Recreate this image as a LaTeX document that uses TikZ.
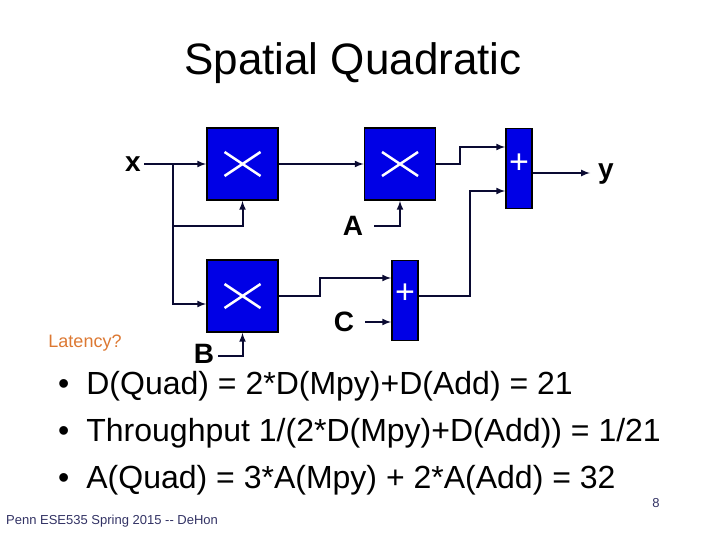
\documentclass[tikz,border=0pt]{standalone}
\usepackage{fontspec}
\setmainfont{Liberation Sans}
\usepackage{xcolor}
\usetikzlibrary{arrows}
\definecolor{blockblue}{RGB}{0,0,230}
\definecolor{wirenavy}{RGB}{10,10,50}
\definecolor{latorange}{RGB}{220,120,50}
\definecolor{footgray}{RGB}{50,50,100}
\tikzset{
  mpy/.style={draw=black, line width=1.8pt, fill=blockblue, minimum width=71pt, minimum height=72pt, inner sep=0pt},
  add/.style={draw=black, line width=1.8pt, fill=blockblue, minimum width=26pt, minimum height=80pt, inner sep=0pt},
  wire/.style={line width=2pt, wirenavy, -latex},
  lbl/.style={font=\fontsize{28}{30}\selectfont\bfseries}
}
\begin{document}
\begin{tikzpicture}[x=1pt, y=-1pt]
	  \useasboundingbox (0,0) rectangle (720,540);
	  \node at (353,63) {\fontsize{44}{48}\selectfont Spatial Quadratic};
	  % blocks
	  \node[mpy] (m1) at (242.5,164) {};
	  \node[mpy] (m2) at (400,164) {};
	  \node[mpy] (m3) at (242.5,296) {};
	  \node[add] (a1) at (519,168.5) {};
	  \node[add] (a2) at (405,300.5) {};
	  \foreach \b in {m1,m2,m3}
	    \draw[white, line width=2.5pt] ([shift={(-18,-12)}]\b.center) -- ([shift={(18,12)}]\b.center)
	      ([shift={(-18,12)}]\b.center) -- ([shift={(18,-12)}]\b.center);
	  \node[white, font=\fontsize{34}{34}\selectfont] at ([yshift=5pt]a1) {+};
	  \node[white, font=\fontsize{34}{34}\selectfont] at ([yshift=7pt]a2) {+};
	  % labels
	  \node[lbl] (x) at (133,164) {x};
	  \node[lbl] (y) at (606,174) {y};
	  \node[lbl] (A) at (353,226) {A};
	  \node[lbl] (B) at (204,354) {B};
	  \node[lbl] (C) at (344,322) {C};
	  % wires
	  \draw[wire] (x.east |- 0,164) -- (m1.west);
	  \draw[wire] (173,164) |- (m3.west |- 0,304);
	  \draw[wire] (173,226) -| (m1.south);
	  \draw[wire] (m1.east) -- (m2.west);
	  \draw[wire] (374,226) -| (m2.south);
	  \draw[wire] (218,356) -| (m3.south);
	  \draw[wire] (m2.east) -- (460,164) |- (a1.west |- 0,147);
	  \draw[wire] (m3.east) -- (320,296) |- (a2.west |- 0,278);
	  \draw[wire] (365,322) -- (a2.west |- 0,322);
	  \draw[wire] (a2.east |- 0,296) -- (470,296) |- (a1.west |- 0,191);
	  \draw[wire] (a1.east |- 0,173) -- (590,173);
	  % text
	  \node[latorange, font=\fontsize{18}{20}\selectfont] at (85,343) {Latency?};
	  \foreach \t [count=\i] in {D(Quad) = 2*D(Mpy)+D(Add) = 21,
	      Throughput 1/(2*D(Mpy)+D(Add)) = 1/21,
	      A(Quad) = 3*A(Mpy) + 2*A(Add) = 32}
	    \node[anchor=west, font=\fontsize{32}{34}\selectfont, inner sep=0pt] at (58,339+47*\i) {\textbullet\hspace{17pt}\t};
	  \node[footgray, font=\fontsize{13}{15}\selectfont, anchor=west, inner sep=0pt] at (6,521) {Penn ESE535 Spring 2015 -{}- DeHon};
	  \node[footgray, font=\fontsize{13}{15}\selectfont] at (656,503) {8};
	\end{tikzpicture}
\end{document}
